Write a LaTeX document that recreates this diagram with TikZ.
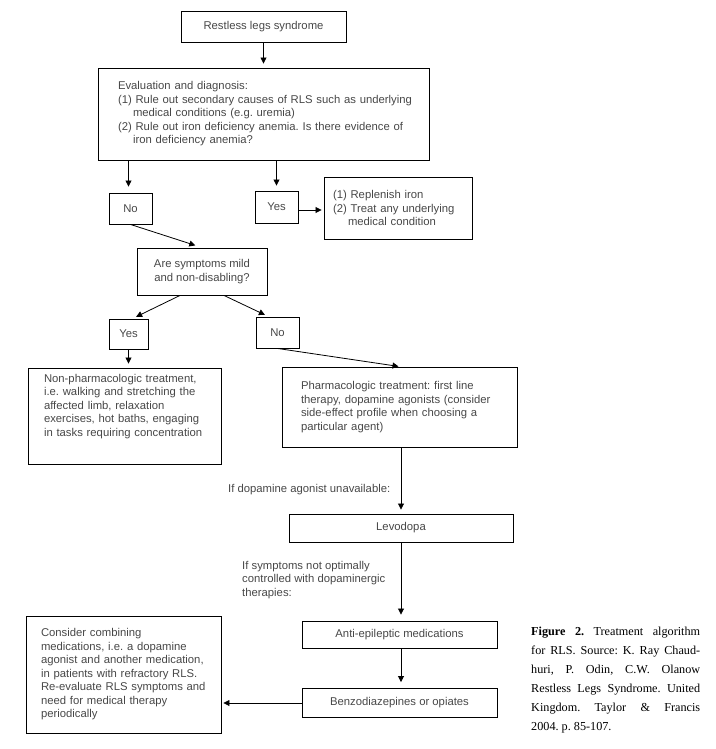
\documentclass[tikz,border=0pt]{standalone}
\usepackage{fontspec}
\setmainfont{Liberation Serif}
\newfontfamily\flowfont{Liberation Sans}
\usepackage{xcolor}
\usetikzlibrary{arrows.meta}

\definecolor{flowtext}{gray}{0.28}
\newcommand{\indentline}{\hspace*{15pt}}
\frenchspacing

\begin{document}
\begin{tikzpicture}[x=1pt, y=-1pt,
  font=\flowfont\fontsize{11.3}{13.5}\selectfont,
  box/.style={draw, line width=0.9pt, text=flowtext, inner sep=0pt},
  leftbox/.style={box, align=left},
  arr/.style={-{Triangle[length=6pt, width=6pt]}, line width=0.8pt, shorten >=4pt},
  note/.style={text=flowtext, align=left, inner sep=0pt}]
  \useasboundingbox (0,0) rectangle (715,749);
  % boxes
  \node[box, minimum width=165pt, minimum height=31pt] (rls) at (263.5,26.5) {Restless legs syndrome};
  \node[leftbox, text width=291pt, inner xsep=20pt, minimum height=92pt] (eval) at (263.5,114)
    {Evaluation and diagnosis:\\\mbox{(1) Rule out secondary causes of RLS such as underlying}\\\indentline medical conditions (e.g. uremia)\\\mbox{(2) Rule out iron deficiency anemia. Is there evidence of}\\\indentline iron deficiency anemia?};
  \node[box, minimum width=43pt, minimum height=31pt] (no1) at (130.5,208.5) {No};
  \node[box, minimum width=43pt, minimum height=32pt] (yes1) at (276.5,207) {Yes};
  \node[leftbox, text width=130pt, inner xsep=9pt, minimum height=62pt] (iron) at (398,208)
    {(1) Replenish iron\\(2) Treat any underlying\\\indentline medical condition};
  \node[box, align=center, minimum width=130pt, minimum height=47pt] (mild) at (202,271.5) {Are symptoms mild\\and non-disabling?};
  \node[box, minimum width=39pt, minimum height=30pt] (yes2) at (128.5,334) {Yes};
  \node[box, minimum width=43pt, minimum height=31pt] (no2) at (277.5,332.5) {No};
  \node[leftbox, text width=161pt, inner xsep=16pt, minimum height=96pt] (nonpharm) at (124.5,416)
    {Non-pharmacologic treatment,\\i.e. walking and stretching the\\affected limb, relaxation\\exercises, hot baths, engaging\\in tasks requiring concentration\\[8pt]~};
  \node[leftbox, text width=197pt, inner xsep=19pt, minimum height=80pt] (pharm) at (399.5,407)
    {Pharmacologic treatment: first line\\therapy, dopamine agonists (consider\\side-effect profile when choosing a\\particular agent)};
  \node[box, minimum width=224pt, minimum height=28pt] (levo) at (401,528) {Levodopa};
  \node[box, minimum width=195pt, minimum height=27pt] (anti) at (399.5,634.5) {Anti-epileptic medications};
  \node[box, minimum width=195pt, minimum height=29pt] (benzo) at (399.5,703) {Benzodiazepines or opiates};
  \node[leftbox, text width=165pt, inner xsep=15pt, minimum height=117pt] (combine) at (123.5,674.5)
    {Consider combining\\medications, i.e. a dopamine\\agonist and another medication,\\in patients with refractory RLS.\\Re-evaluate RLS symptoms and\\need for medical therapy\\periodically};
  % notes on the main line
  \node[note, anchor=west] (unavail) at (228,490) {If dopamine agonist unavailable:};
  \node[note, anchor=north west] (notctrl) at (242,561) {If symptoms not optimally\\controlled with dopaminergic\\therapies:};
  % arrows
  \draw[arr] (rls) -- (eval);
  \draw[arr, shorten >=6pt] ([xshift=-2pt]no1.north |- eval.south) -- ([xshift=-2pt]no1.north);
  \draw[arr, shorten >=5pt] (yes1.north |- eval.south) -- (yes1.north);
  \draw[arr, shorten >=2pt] ([yshift=-3pt]yes1.east) -- ([yshift=-3pt]yes1.east -| iron.west);
  \draw[arr, shorten >=7pt] (no1.south) -- (mild.north);
  \draw[arr] ([xshift=-22pt]mild.south) -- ([xshift=4pt]yes2.north);
  \draw[arr] ([xshift=22pt]mild.south) -- ([xshift=-9pt]no2.north);
  \draw[arr] (yes2.south) -- (yes2.south |- nonpharm.north);
  \draw[arr, shorten >=1pt] (no2.south) -- (pharm.north);
  \draw[arr] (levo.north |- pharm.south) -- (levo.north);
  \draw[arr, shorten >=6pt] (levo.south) -- (levo.south |- anti.north);
  \draw[arr, shorten >=6pt] (anti.south -| levo.south) -- (benzo.north -| levo.south);
  \draw[arr, shorten >=2pt] (benzo.west) -- (benzo.west -| combine.east);
  % caption
  \node[anchor=north west, inner sep=0pt, text width=169pt, align=justify,
    font=\rmfamily\fontsize{12.2}{19}\selectfont] (caption) at (531,627)
    {\textbf{Figure 2.} Treatment algorithm\linebreak for RLS. Source: K. Ray Chaud-\linebreak huri, P. Odin, C.W. Olanow\linebreak Restless Legs Syndrome. United\linebreak Kingdom. Taylor \& Francis\linebreak 2004. p. 85-107.};
\end{tikzpicture}
\end{document}
